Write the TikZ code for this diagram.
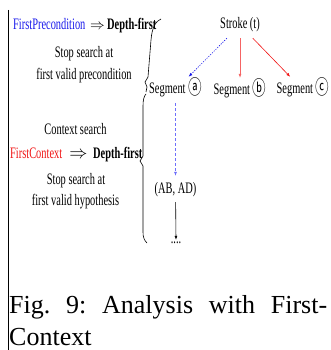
\documentclass[tikz,border=0pt]{standalone}
\usepackage{fontspec}
\setmainfont{Liberation Serif}
\newfontfamily\cond[FakeStretch=0.65]{Liberation Serif}
\newfontfamily\circf[FakeStretch=0.68]{Noto Sans CJK JP}
\newcommand{\circl}[1]{{\circf\fontsize{20}{20}\selectfont\raisebox{-0.5pt}{#1}}}
\usetikzlibrary{arrows.meta}
\definecolor{pblue}{RGB}{25,25,235}
\definecolor{pred}{RGB}{240,20,20}
\definecolor{lblue}{RGB}{110,110,250}
\definecolor{lred}{RGB}{245,100,100}
\begin{document}
\frenchspacing
\begin{tikzpicture}[x=1pt,y=-1pt,
  lbl/.style={font=\cond\fontsize{16}{18}\selectfont, inner sep=0pt, anchor=base},
  tnode/.style={font=\cond\fontsize{16}{18}\selectfont, text height=11pt, text depth=3pt, inner ysep=6pt, inner xsep=2pt},
  arr/.style={-{Latex[length=4pt,width=3pt]}, line width=0.6pt},
  bracepath/.style={line width=0.6pt},
  captext/.style={font=\fontsize{26}{30}\selectfont, inner sep=0pt, anchor=base west}]
\useasboundingbox (0,0) rectangle (330,350);
% left rule
\coordinate (rtop) at (8,10);
\coordinate (rbot) at (8,350);
\draw[line width=1pt] (rtop) -- (rbot);
% left text, block 1
\node[lbl, anchor=base west, text=pblue] (fp) at (13,30) {FirstPrecondition};
\node[lbl] (ar1) at (97.5,30) {\scalebox{0.85}{$\Rightarrow$}};
\node[lbl, anchor=base west] (df1) at (107,30) {\bfseries Depth-first};
\node[lbl] (s1) at (84,58) {Stop search at};
\node[lbl] (s2) at (84,80) {first valid precondition};
% block 2
\node[lbl] (c1) at (75.5,134) {Context search};
\node[lbl, anchor=base west, text=pred] (fc) at (10,158) {FirstContext};
\node[lbl] (ar2) at (78.5,158) {\scalebox{1.05}{$\Rightarrow$}};
\node[lbl, anchor=base west] (df2) at (93,158) {\bfseries Depth-first};
\node[lbl] (c2) at (76,184) {Stop search at};
\node[lbl] (c3) at (75.5,205) {first valid hypothesis};
% braces
\draw[bracepath] (161,19) .. controls (156,21) and (152,27) .. (151,40) -- (148,77) -- (145,82) -- (147,87) -- (146,92);
\draw[bracepath] (146,94) .. controls (144,96) and (143,100) .. (143,106) -- (143,156) -- (140,161) -- (143,166) -- (143,232) .. controls (143,237) and (144,240) .. (147,243);
% tree
\node[tnode, anchor=base] (st) at (240,29) {Stroke (t)};
\node[tnode, anchor=base] (sa) at (175.5,94) {Segment \circl{ⓐ}};
\node[tnode, anchor=base] (sb) at (240,95) {Segment \circl{ⓑ}};
\node[tnode, anchor=base] (sc) at (303,94) {Segment \circl{ⓒ}};
\node[tnode, anchor=base] (ab) at (175.5,193) {(AB, AD)};
\node[lbl, inner sep=1pt, text height=2pt] (dd) at (176,243) {....};
\draw[arr, pblue, dash pattern=on 1.2pt off 1.3pt] (st) -- (sa);
\draw[arr, lred] (st) -- (sb);
\draw[arr, pred] (st) -- (sc);
\draw[arr, lblue, dash pattern=on 3pt off 2pt] (sa) -- (ab);
\draw[arr, black] (ab) -- (dd.north);
% caption
\node[captext] (cp1) at (9,313) {\makebox[318pt][s]{Fig. 9: Analysis with First-}};
\node[captext] (cp2) at (9,345) {Context};
\end{tikzpicture}
\end{document}
